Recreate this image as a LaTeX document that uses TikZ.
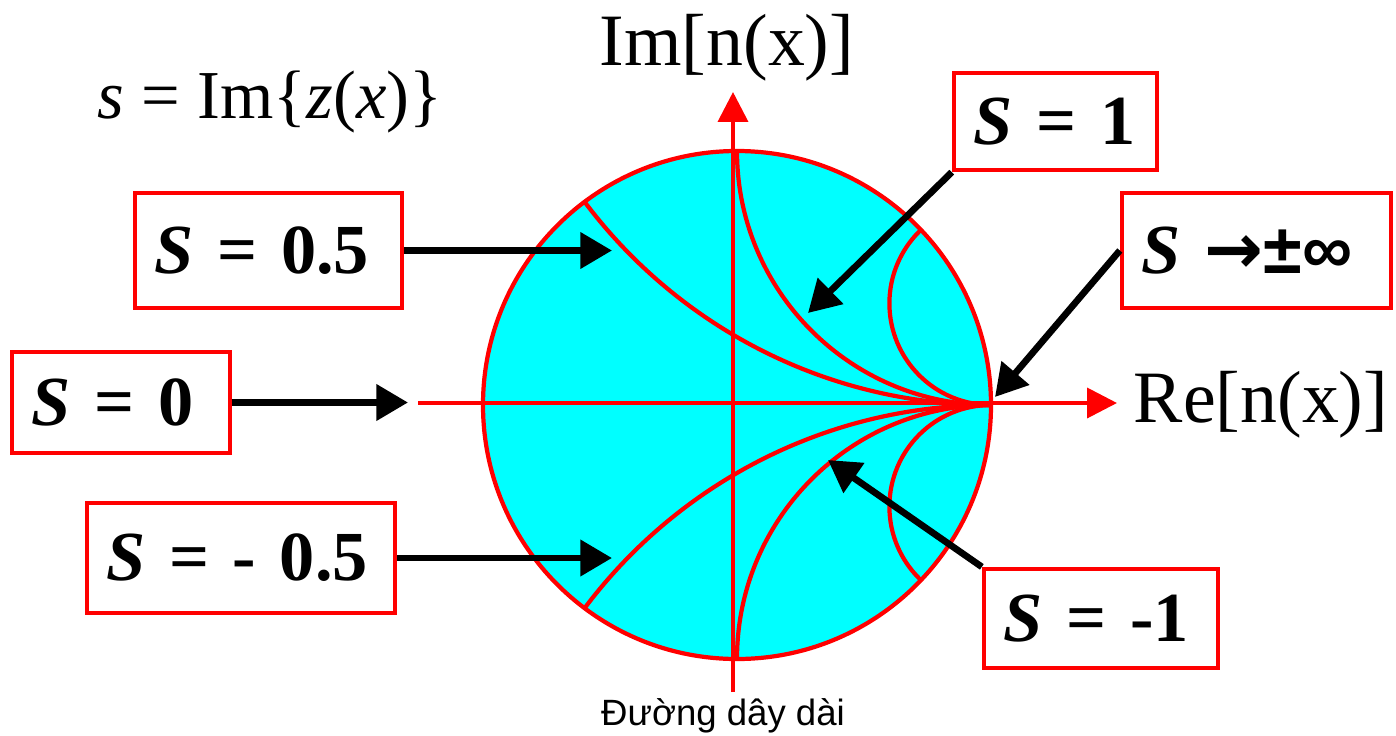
\documentclass[tikz,border=0pt]{standalone}
\usepackage{fontspec}
\setmainfont{Liberation Serif}
\setsansfont{Liberation Sans}
\newfontfamily\arrowfont{DejaVu Sans}
\usepackage{tikz}
\usetikzlibrary{arrows.meta, positioning}
\definecolor{chartCyan}{HTML}{00FFFF}
\definecolor{chartRed}{HTML}{FF0000}

\begin{document}
\begin{tikzpicture}[
    x=0.01cm, y=-0.01cm,
    valbox/.style={draw=chartRed, line width=1.2pt, fill=white, inner xsep=0.2cm, inner ysep=0pt, align=left, font=\fontsize{20}{24}\selectfont\bfseries},
    ptr/.style={-{Triangle[length=9pt, width=10pt]}, line width=1.9pt},
    axis/.style={chartRed, line width=1.1pt, -{Triangle[length=8.5pt, width=8.5pt]}},
    curve/.style={chartRed, line width=1.2pt},
    axlabel/.style={font=\fontsize{21}{24}\selectfont, anchor=base},
]
    \useasboundingbox (0,0) rectangle (1396,736);

    % Chart: disc and arcs of constant s
    \begin{scope}[shift={(737,405)}, xscale=254, yscale=-254]
        \fill[chartCyan] (0,0) circle (1);
        \begin{scope}
            \clip (0,0) circle (1);
            \foreach \s in {0.5, 1, 2.5} {
                \draw[curve] (1, 1/\s) circle (1/\s);
                \draw[curve] (1, -1/\s) circle (1/\s);
            }
        \end{scope}
    \end{scope}

    % Axes
    \coordinate (ox) at (418,403);
    \coordinate (rx) at (1117,403);
    \coordinate (oy) at (733,692);
    \coordinate (ry) at (733,92);
    \draw[axis] (ox) -- (rx);
    \draw[axis] (oy) -- (ry);
    \draw[curve] (737,405) circle (254);

    \node[axlabel] (relab) at (1261,422) {Re[n(x)]};
    \node[axlabel] (imlab) at (727,65) {Im[n(x)]};

    % Definition and caption
    \node[anchor=base, font=\fontsize{19.5}{24}\selectfont] (defn) at (270,118)
        {\textit{s} = Im\{\textit{z}(\textit{x})\}};
    \node[anchor=base, font=\sffamily\fontsize{10.4}{12}\selectfont] (cap) at (723,725)
        {Đường dây dài};

    % Value boxes
    \node[valbox, text width=2.27cm, minimum height=1.15cm] (b05) at (268.5,250.5) {\textit{S}~=~0.5};
    \node[valbox, text width=1.78cm, minimum height=1.01cm] (b0) at (121,402.5) {\textit{S}~=~0};
    \node[valbox, text width=2.68cm, minimum height=1.10cm] (bm05) at (241,558) {\textit{S}~=~-~0.5};
    \node[valbox, text width=1.63cm, minimum height=0.97cm] (b1) at (1055.5,121.5) {\textit{S}~=~1};
    \node[valbox, text width=2.29cm, minimum height=1.15cm] (binf) at (1256.5,250.5) {\textit{S}~{\arrowfont →}{\sffamily ±∞}};
    \node[valbox, text width=1.94cm, minimum height=0.99cm] (bm1) at (1101,618.5) {\textit{S}~=~-1};

    % Pointers
    \coordinate (t05) at (612,250.5);
    \coordinate (t0) at (408,402.5);
    \coordinate (tm05) at (612,558);
    \coordinate (t1) at (808,313);
    \coordinate (tinf) at (995,397);
    \coordinate (tm1) at (828,460);
    \draw[ptr] (b05.east) -- (t05);
    \draw[ptr] (b0.east) -- (t0);
    \draw[ptr] (bm05.east) -- (tm05);
    \draw[ptr] (b1.south west) -- (t1);
    \draw[ptr] (binf.west) -- (tinf);
    \draw[ptr] (bm1.north west) -- (tm1);
\end{tikzpicture}
\end{document}
